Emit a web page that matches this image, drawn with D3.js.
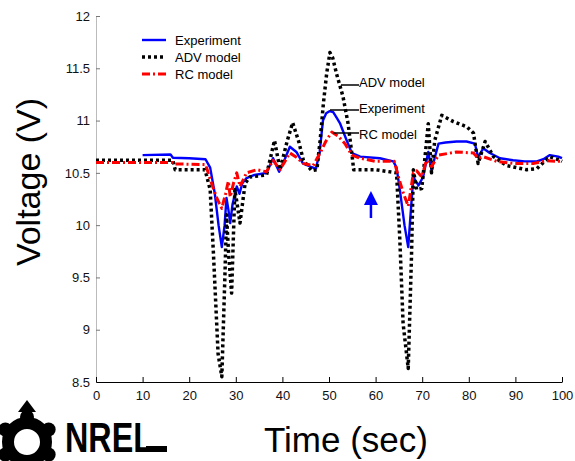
<!DOCTYPE html>
<html>
<head>
<meta charset="utf-8">
<script src="https://cdn.jsdelivr.net/npm/d3@7"></script>
<style>
  body { margin: 0; background: #fff; }
  svg { font-family: "Liberation Sans", Arial, sans-serif; }
</style>
</head>
<body>
<svg id="canvas"></svg>
<script>
// measured series (time in s, voltage in V)
let expTime = [10, 16, 16.5, 20, 23.5, 24.5, 25.5, 26.3, 27.0, 27.6, 28.0, 28.4, 28.8, 29.3, 30.2, 30.8, 31.4, 32.3, 34, 36.6, 38.0, 39.3, 40.5, 41.6, 43, 44.4, 46, 47.2, 48.0, 48.7, 49.4, 50.1, 50.9, 51.6, 52.4, 53.8, 54.9, 56.7, 60.9, 63.8, 64.5, 65.2, 66.2, 67.0, 67.5, 68.1, 69.2, 70.2, 71.3, 72.0, 73.5, 75, 77.4, 79.5, 81.3, 82.0, 83.1, 84.5, 86.7, 89.5, 92, 94.6, 96, 97.4, 99.2, 100];
let expVolt = [10.67, 10.675, 10.645, 10.64, 10.63, 10.55, 10.3, 10.0, 9.79, 10.0, 10.26, 10.15, 10.02, 10.2, 10.37, 10.3, 10.4, 10.45, 10.48, 10.50, 10.64, 10.51, 10.63, 10.75, 10.7, 10.59, 10.56, 10.54, 10.7, 11.0, 11.07, 11.09, 11.08, 11.03, 10.97, 10.81, 10.69, 10.655, 10.64, 10.61, 10.55, 10.34, 10.0, 9.79, 10.1, 10.46, 10.38, 10.46, 10.70, 10.53, 10.78, 10.79, 10.80, 10.80, 10.78, 10.65, 10.735, 10.69, 10.64, 10.62, 10.61, 10.61, 10.63, 10.67, 10.655, 10.64];

let advTime = [0, 16.5, 17, 23.4, 24.5, 25.2, 26.2, 27.0, 27.7, 28.0, 28.5, 29.1, 29.8, 30.3, 30.9, 32.0, 33.0, 36.6, 38.3, 39.5, 41.0, 42.2, 43.5, 44.5, 46.3, 47.4, 48.1, 48.8, 49.5, 50.2, 50.8, 51.6, 53.0, 54.1, 54.8, 55.3, 60, 64.5, 65.2, 65.9, 67.0, 67.7, 68.1, 68.8, 69.9, 70.6, 71.3, 72.0, 72.7, 74.2, 76.7, 79.6, 81.0, 82.0, 83.5, 85.3, 88.1, 92.4, 94.6, 96, 97.4, 99.6, 100];
let advVolt = [10.62, 10.62, 10.53, 10.53, 10.34, 9.73, 8.77, 8.55, 9.57, 10.10, 9.7, 9.35, 10.34, 10.2, 10.02, 10.40, 10.46, 10.48, 10.81, 10.53, 10.8, 10.98, 10.8, 10.62, 10.52, 10.53, 10.81, 11.165, 11.45, 11.65, 11.6, 11.45, 11.23, 10.97, 10.72, 10.53, 10.53, 10.50, 9.86, 9.06, 8.63, 9.70, 10.53, 10.34, 10.35, 10.65, 10.97, 10.50, 10.81, 11.05, 10.99, 10.94, 10.88, 10.59, 10.80, 10.655, 10.57, 10.53, 10.54, 10.6, 10.655, 10.62, 10.61];

let rcTime = [0, 16.5, 17, 23.5, 24.8, 26, 27.0, 27.8, 28.4, 28.8, 29.5, 30.2, 30.9, 32.3, 34.5, 36.6, 38.0, 39.5, 41.6, 43, 44.5, 46.6, 48.1, 49.3, 50.6, 52.0, 53.4, 54.9, 56.7, 60, 64, 64.9, 66, 67.0, 67.6, 68.1, 68.8, 69.9, 70.9, 72.0, 73.5, 77.4, 81.0, 82.0, 83.1, 86.0, 89.5, 93.8, 96.7, 99.6, 100];
let rcVolt = [10.60, 10.60, 10.585, 10.58, 10.40, 10.25, 10.16, 10.3, 10.42, 10.27, 10.4, 10.50, 10.37, 10.50, 10.53, 10.51, 10.62, 10.53, 10.69, 10.65, 10.59, 10.57, 10.69, 10.8, 10.89, 10.85, 10.78, 10.67, 10.64, 10.61, 10.61, 10.46, 10.3, 10.18, 10.35, 10.50, 10.52, 10.46, 10.62, 10.56, 10.67, 10.70, 10.69, 10.64, 10.655, 10.61, 10.59, 10.59, 10.615, 10.61, 10.61];

let xTicks = [0, 10, 20, 30, 40, 50, 60, 70, 80, 90, 100];
let yTicks = [8.5, 9, 9.5, 10, 10.5, 11, 11.5, 12];
let seriesNames = ["Experiment", "ADV model", "RC model"];

let width = 575;
let height = 461;

let canvas = d3.select("#canvas");
canvas.attr("width", width)
canvas.attr("height", height)

let xScale = d3.scaleLinear().domain([0, 100]).range([96, 562])
let yScale = d3.scaleLinear().domain([8.5, 12]).range([382, 16])

let styles = [
    {color: "#0000ff", width: 2.4, dash: null},
    {color: "#000000", width: 3.5, dash: "3,3"},
    {color: "#ff0000", width: 3, dash: "8,3,2,3"}
]

let drawAxes = () => {
    let xAxis = d3.axisBottom(xScale)
                  .tickValues(xTicks)
                  .tickSizeInner(-5)
                  .tickSizeOuter(0)
                  .tickPadding(9)
    let yAxis = d3.axisLeft(yScale)
                  .tickValues(yTicks)
                  .tickFormat(d3.format("~g"))
                  .tickSizeInner(-4)
                  .tickSizeOuter(0)
                  .tickPadding(6)

    let gy = canvas.append("g")
          .attr("transform", "translate(" + xScale(0) + ",0)")
          .call(yAxis)
    gy.select(".domain").attr("stroke", "#bbb")
    gy.selectAll(".tick line").attr("stroke", "#777")
    gy.selectAll("text").attr("font-size", 13).attr("fill", "#111")

    let gx = canvas.append("g")
          .attr("transform", "translate(0," + yScale(8.5) + ")")
          .call(xAxis)
    gx.selectAll("text").attr("font-size", 13).attr("fill", "#111")

    canvas.append("text")
          .attr("transform", "translate(40," + 182 + ") rotate(-90)")
          .attr("text-anchor", "middle")
          .attr("font-size", 34)
          .text("Voltage (V)")

    canvas.append("text")
          .attr("x", 346)
          .attr("y", 452)
          .attr("text-anchor", "middle")
          .attr("font-size", 35)
          .text("Time (sec)")
}

let drawLines = () => {
    let line = d3.line()
                 .x(d => xScale(d[0]))
                 .y(d => yScale(d[1]))
    let series = [
        d3.zip(expTime, expVolt),
        d3.zip(advTime, advVolt),
        d3.zip(rcTime, rcVolt)
    ]
    series.forEach((pts, i) => {
        canvas.append("path")
              .attr("d", line(pts))
              .attr("fill", "none")
              .attr("stroke", styles[i].color)
              .attr("stroke-width", styles[i].width)
              .attr("stroke-dasharray", styles[i].dash)
              .attr("stroke-linejoin", "round")
    })
}

let drawLegend = () => {
    seriesNames.forEach((name, i) => {
        let y = 40 + i * 17
        canvas.append("line")
              .attr("x1", 142).attr("x2", 166)
              .attr("y1", y).attr("y2", y)
              .attr("stroke", styles[i].color)
              .attr("stroke-width", styles[i].width)
              .attr("stroke-dasharray", styles[i].dash)
        canvas.append("text")
              .attr("x", 175).attr("y", y + 5)
              .attr("font-size", 13)
              .text(name)
    })
}

let drawAnnotations = () => {
    let notes = [
        {name: "ADV model", x1: 341, y: 85, base: 87},
        {name: "Experiment", x1: 330, y: 110, base: 113},
        {name: "RC model", x1: 333, y: 133, base: 139}
    ]
    notes.forEach(n => {
        canvas.append("line")
              .attr("x1", n.x1).attr("x2", 359)
              .attr("y1", n.y).attr("y2", n.y)
              .attr("stroke", "#000").attr("stroke-width", 1.5)
        canvas.append("text")
              .attr("x", 359).attr("y", n.base)
              .attr("font-size", 13)
              .text(n.name)
    })

    // blue arrow
    let ax = xScale(59.0)
    canvas.append("line")
          .attr("x1", ax).attr("x2", ax)
          .attr("y1", yScale(10.068)).attr("y2", yScale(10.2))
          .attr("stroke", "#0000ff").attr("stroke-width", 2.5)
    canvas.append("path")
          .attr("d", "M" + (ax - 7) + "," + yScale(10.193) + " L" + ax + "," + yScale(10.326) + " L" + (ax + 7) + "," + yScale(10.193) + " Z")
          .attr("fill", "#0000ff")
}

let drawLogo = () => {
    let logo = canvas.append("g").attr("transform", "translate(27,442)")
    logo.append("circle").attr("r", 19).attr("fill", "none")
        .attr("stroke", "#000").attr("stroke-width", 12)
    d3.range(6).forEach(k => {
        let a = k * Math.PI / 3 - Math.PI / 2
        logo.append("circle")
            .attr("cx", 25 * Math.cos(a)).attr("cy", 25 * Math.sin(a))
            .attr("r", 7).attr("fill", "#000")
    })
    logo.append("path").attr("d", "M-9,-30 L0,-42 L9,-30 Z").attr("fill", "#000")
    canvas.append("text")
          .attr("x", 65).attr("y", 452)
          .attr("font-size", 43)
          .attr("font-weight", "bold")
          .attr("textLength", 88)
          .attr("lengthAdjust", "spacingAndGlyphs")
          .text("NREL")
    canvas.append("rect").attr("x", 146).attr("y", 446).attr("width", 21).attr("height", 6).attr("fill", "#000")
}

drawAxes();
drawLines();
drawLegend();
drawAnnotations();
drawLogo();
</script>
</body>
</html>
